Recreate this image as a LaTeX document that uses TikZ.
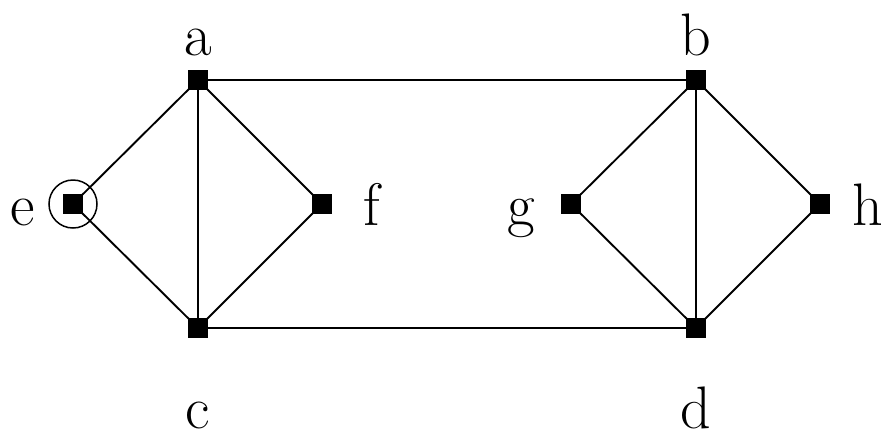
\documentclass[tikz,border=0pt]{standalone}
\usepackage{tikz}
\usetikzlibrary{positioning}

\begin{document}
\begin{tikzpicture}[
  x=1pt, y=-1pt,
  vert/.style={draw, fill=black, minimum size=19pt, inner sep=0pt},
  lbl/.style={font=\fontsize{60}{60}\selectfont, inner sep=0pt, anchor=base},
  edge/.style={line width=1.9pt}
]
\useasboundingbox (0,0) rectangle (892,440);

% vertices
\node[vert] (a) at (198,80) {};
\node[vert] (b) at (696,80) {};
\node[vert] (c) at (198,328) {};
\node[vert] (d) at (696,328) {};
\node[vert] (e) at (73,204) {};
\node[vert] (f) at (322,204) {};
\node[vert] (g) at (571,204) {};
\node[vert] (h) at (820,204) {};

% vertex names
\node[lbl] (la) at (198,55) {a};
\node[lbl] (lb) at (696,55) {b};
\node[lbl] (lc) at (198,428) {c};
\node[lbl] (ld) at (696,428) {d};
\node[lbl] (le) at (23,225) {e};
\node[lbl] (lf) at (372,225) {f};
\node[lbl] (lg) at (521,225) {g};
\node[lbl] (lh) at (868,225) {h};

% marked vertex
\node[draw, circle, line width=1.5pt, minimum size=48pt, inner sep=0pt] (ring) at (e) {};

% edges
\draw[edge] (a.center) -- (b.center);
\draw[edge] (c.center) -- (d.center);
\draw[edge] (a.center) -- (c.center);
\draw[edge] (b.center) -- (d.center);
\draw[edge] (e.center) -- (a.center) -- (f.center) -- (c.center) -- (e.center);
\draw[edge] (g.center) -- (b.center) -- (h.center) -- (d.center) -- (g.center);

\end{tikzpicture}
\end{document}
